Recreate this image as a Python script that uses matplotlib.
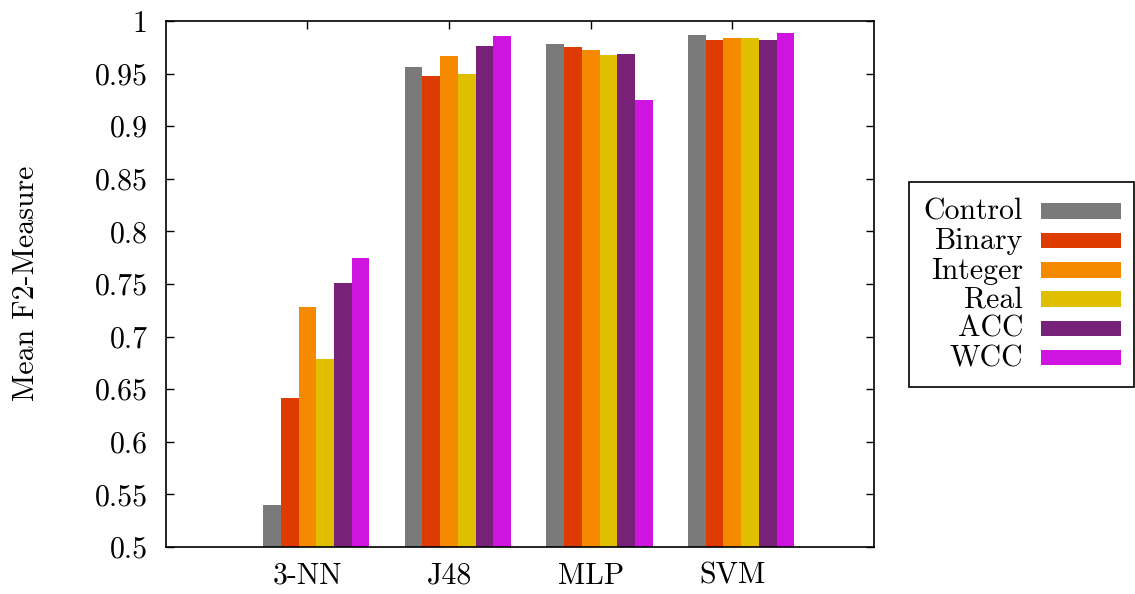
import matplotlib
matplotlib.use("Agg")
import matplotlib.pyplot as plt
from matplotlib.patches import Rectangle
import numpy as np

categories = ["3-NN", "J48", "MLP", "SVM"]
series_names = ["Control", "Binary", "Integer", "Real", "ACC", "WCC"]
control = [0.540, 0.956, 0.978, 0.987]
binary = [0.642, 0.948, 0.975, 0.982]
integer = [0.728, 0.967, 0.972, 0.984]
real = [0.679, 0.950, 0.968, 0.984]
acc = [0.751, 0.976, 0.969, 0.982]
wcc = [0.775, 0.986, 0.925, 0.989]
ytick_values = [0.5, 0.55, 0.6, 0.65, 0.7, 0.75, 0.8, 0.85, 0.9, 0.95, 1.0]
ytick_labels = ["0.5", "0.55", "0.6", "0.65", "0.7", "0.75", "0.8", "0.85", "0.9", "0.95", "1"]

series = [control, binary, integer, real, acc, wcc]
colors = ["#7a7a7a", "#de3b00", "#f58a00", "#e0be00", "#782178", "#cf14e0"]

plt.rcParams['font.family'] = ['cmr10', 'DejaVu Serif']
plt.rcParams['axes.formatter.use_mathtext'] = True

FS = 21.5
W, H = 1135, 594
fig = plt.figure(figsize=(W / 100, H / 100), dpi=100)
ax = fig.add_axes([165.7 / W, 1 - 547 / H, (874 - 165.7) / W, (547 - 21) / H])

x = np.arange(len(categories))
bw = 0.125
for k, (vals, c) in enumerate(zip(series, colors)):
    ax.bar(x + (k - 2) * bw, np.array(vals) - 0.5, bottom=0.5, width=bw,
           color=c, linewidth=0, zorder=2)

ax.set_xlim(-1, 4)
ax.set_ylim(0.5, 1.0)
ax.set_xticks(x)
ax.set_xticklabels(categories, fontsize=FS)
ax.set_yticks(ytick_values)
ax.set_yticklabels(ytick_labels, fontsize=FS)
ax.tick_params(axis='y', direction='in', length=6, width=1.0, left=True, right=True, pad=13)
ax.tick_params(axis='x', direction='in', length=6, width=1.0, top=True, bottom=False, pad=11)
for s in ax.spines.values():
    s.set_linewidth(1.2)

fig.text(26 / W, 1 - 283 / H, "Mean F2-Measure", rotation=90, ha='center', va='center', fontsize=FS)

# legend (manual, right-aligned labels as in reference)
def fx(px):
    return px / W

def fy(py):
    return 1 - py / H

fig.patches.append(Rectangle((fx(909), fy(387)), fx(1134) - fx(909), fy(182) - fy(387),
                             transform=fig.transFigure, fill=False, edgecolor='black',
                             linewidth=1.2))
row_y = [211, 240.5, 270, 299, 328, 357.5]
for name, c, ry in zip(series_names, colors, row_y):
    fig.text(fx(1023), fy(ry - 2), name, ha='right', va='center_baseline', fontsize=FS)
    fig.patches.append(Rectangle((fx(1041), fy(ry + 7.5)), fx(1121) - fx(1041), 15 / H,
                                 transform=fig.transFigure, facecolor=c, linewidth=0))

fig.savefig("out.png", dpi=100)
